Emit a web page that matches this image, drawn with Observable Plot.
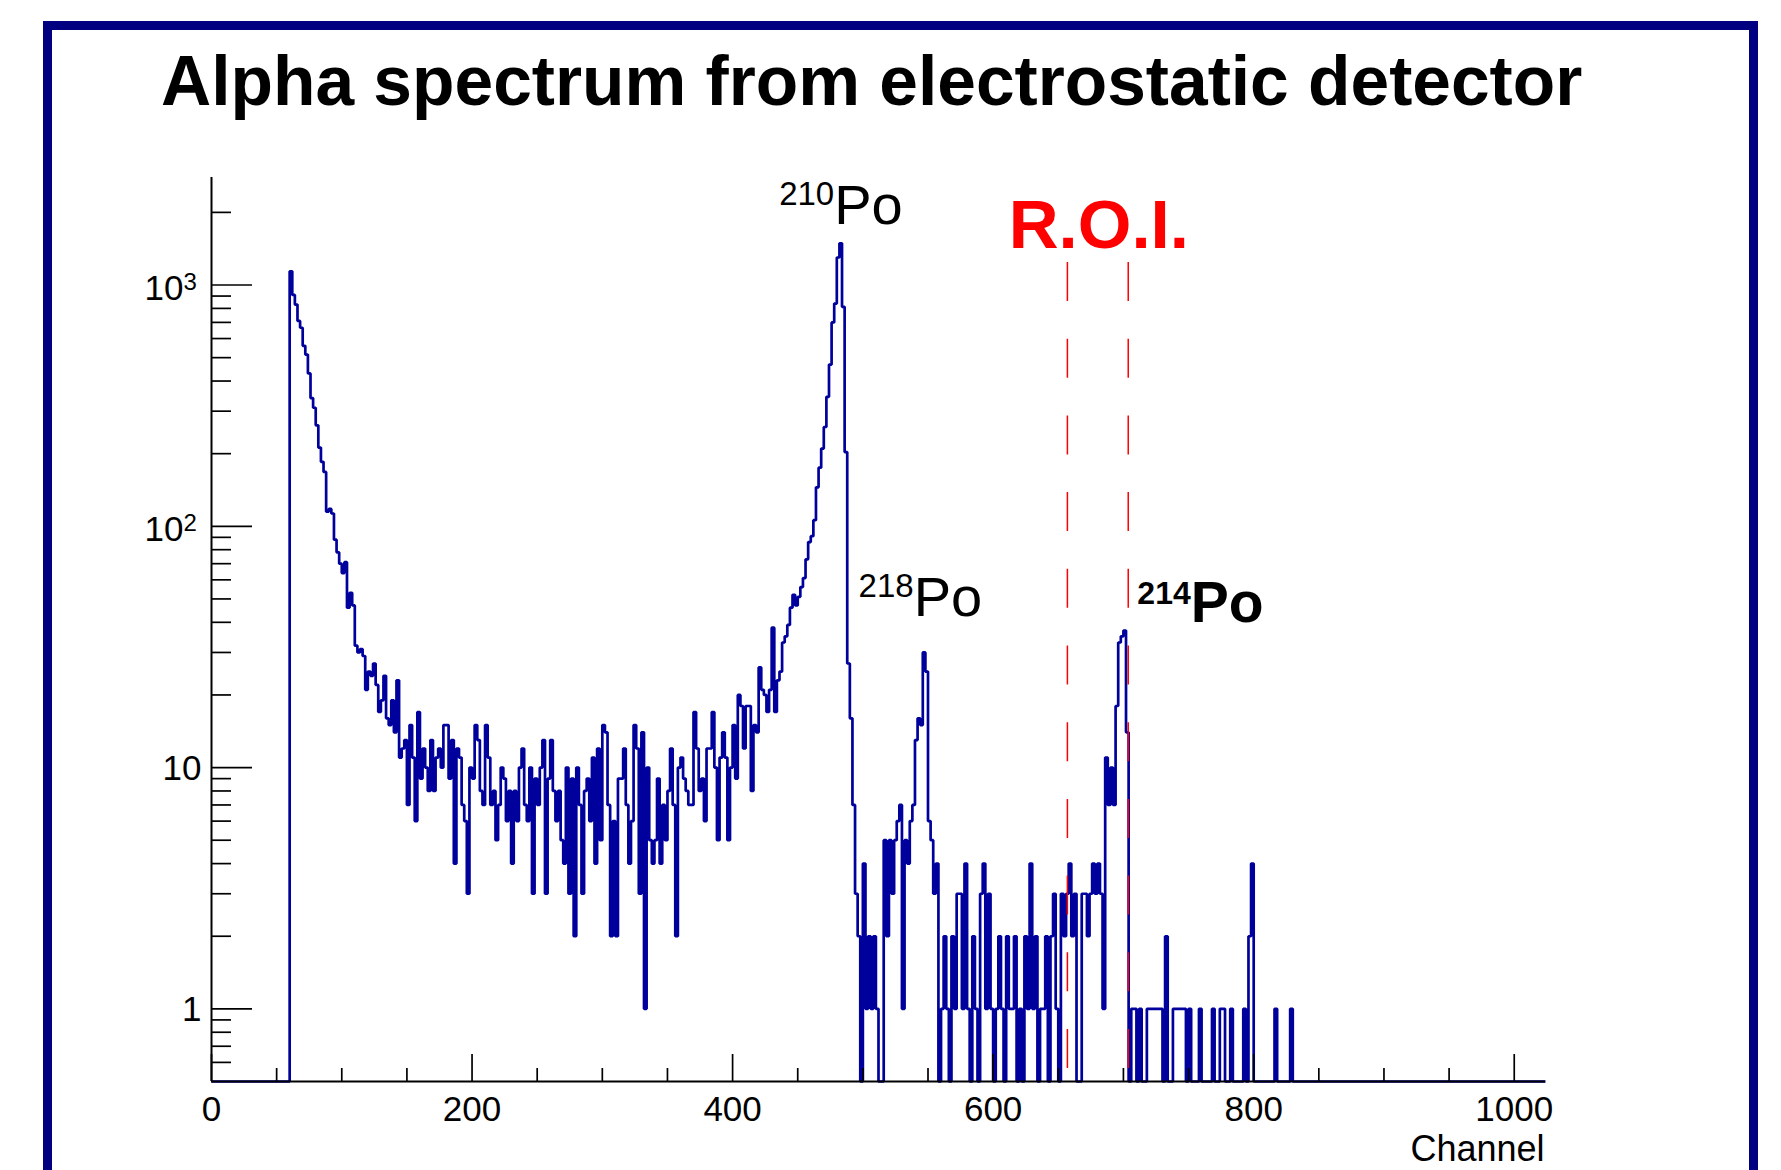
<!DOCTYPE html>
<html><head><meta charset="utf-8">
<script src="https://cdn.jsdelivr.net/npm/d3@7"></script>
<script src="https://cdn.jsdelivr.net/npm/@observablehq/plot@0.6"></script>
<style>
html,body{margin:0;padding:0;background:#fff;}
body{width:1781px;height:1170px;overflow:hidden;position:relative;font-family:"Liberation Sans",Arial,sans-serif;}
#frame{position:absolute;left:43px;top:21px;width:1715px;height:1300px;border:9px solid #000080;box-sizing:border-box;}
#title{position:absolute;left:161px;top:47px;margin:0;font-weight:bold;font-size:69.5px;line-height:69px;white-space:nowrap;color:#000;}
#chart{position:absolute;left:0;top:130px;}
</style></head><body>
<div id="frame"></div>
<h1 id="title">Alpha spectrum from electrostatic detector</h1>
<div id="chart"></div>
<script>
// ---- data -------------------------------------------------------------
const channelRange = [0, 1024];
const countRange = [0.5, 2790];
const binStart = 60;      // first channel of the counts array
const binWidth = 2;       // channels per bin
// counts per 2-channel bin, channels 60 .. 830
const counts = [
  1140, 910, 830, 710, 665, 560, 515, 430, 340, 310,   // 60-78
  262, 212, 185, 168, 115, 118, 113, 88, 78, 70,       // 80-98
  64, 71, 46, 53, 47, 32, 30, 31, 29, 21,              // 100-118
  25, 24, 27, 22, 17, 19, 24, 16, 15, 19,              // 120-138
  14, 23, 11, 12, 13, 7, 15, 11, 6, 17,                // 140-158
  9, 12, 10, 8, 13, 8, 11, 12, 10, 15,                 // 160-178
  15, 9, 13, 4, 12, 11, 7, 6, 3, 10,                   // 180-198
  9, 15, 13, 8, 7, 15, 11, 7, 8, 5,                    // 200-218
  7, 10, 9, 6, 8, 4, 8, 6, 10, 12,                     // 220-238
  7, 6, 10, 3, 9, 7, 10, 13, 3, 9,                     // 240-258
  13, 8, 6, 8, 5, 4, 10, 3, 9, 2,                      // 260-278
  10, 7, 3, 8, 9, 6, 11, 4, 12, 5,                     // 280-298
  15, 14, 7, 2, 6, 2, 9, 9, 12, 7,                     // 300-318
  4, 6, 15, 12, 3, 14, 1, 10, 5, 4,                    // 320-338
  5, 9, 4, 7, 5, 8, 12, 7, 2, 10,                      // 340-358
  11, 9, 8, 7, 7, 17, 12, 8, 9, 6,                     // 360-378
  12, 12, 17, 10, 5, 11, 14, 11, 5, 10,                // 380-398
  15, 9, 20, 18, 12, 18, 18, 8, 15, 14,                // 400-418
  26, 21, 20, 17, 21, 38, 17, 23, 25, 33,              // 420-438
  35, 39, 46, 52, 47, 51, 56, 61, 73, 86,              // 440-458
  91, 106, 145, 175, 210, 258, 344, 468, 700, 838,     // 460-478
  1300, 1490, 812, 203, 27, 16, 7, 3, 2, 0,            // 480-498
  4, 1, 2, 1, 2, 1, 0, 0, 5, 2,                        // 500-518
  5, 3, 5, 6, 7, 1, 5, 4, 6, 7,                        // 520-538
  13, 16, 15, 30, 25, 6, 5, 3, 4, 0,                   // 540-558
  1, 2, 1, 0, 2, 1, 3, 3, 1, 4,                        // 560-578
  1, 0, 2, 1, 0, 3, 4, 1, 3, 1,                        // 580-598
  0, 1, 2, 1, 0, 2, 1, 1, 2, 0,                        // 600-618
  1, 0, 2, 1, 4, 1, 2, 0, 1, 1,                        // 620-638
  2, 0, 2, 3, 1, 0, 3, 2, 3, 4,                        // 640-658
  2, 3, 0, 0, 3, 3, 2, 3, 4, 3,                        // 660-678
  4, 3, 1, 11, 7, 10, 7, 18, 33, 35,                   // 680-698
  37, 14, 0, 1, 1, 0, 1, 0, 0, 1,                      // 700-718
  1, 1, 1, 1, 1, 0, 2, 0, 0, 1,                        // 720-738
  1, 1, 1, 1, 0, 1, 0, 0, 0, 1,                        // 740-758
  0, 0, 0, 0, 1, 0, 0, 1, 1, 0,                        // 760-778
  0, 1, 0, 0, 0, 0, 1, 0, 2, 4,                        // 780-798
  0, 0, 0, 0, 0, 0, 0, 0, 1, 0,                        // 800-818
  0, 0, 0, 0, 1, 0                                     // 820-830
];
const xTickLabels = [0, 200, 400, 600, 800, 1000];
const xMinorStep = 50;
const yMajor = [1, 10, 100, 1000];
const yPlainLabels = [{v: 1, text: "1"}, {v: 10, text: "10"}];
const yPowerLabels = [{v: 100, base: "10", exp: "2"}, {v: 1000, base: "10", exp: "3"}];
const roiChannels = [657, 703.7];
const roiTop = 1240;
const isotopes = [
  {mass: "210", name: "Po", ch: 478, n: 1798, bold: false},
  {mass: "218", name: "Po", ch: 539, n: 42.4, bold: false},
  {mass: "214", name: "Po", ch: 751.7, n: 40.0, bold: true}
];
const roiLabel = [{text: "R.O.I.", ch: 612, n: 1417}];
const xTitle = "Channel";

// ---- derived tables ---------------------------------------------------
const hist = [{ch: channelRange[0], n: 0}];
counts.forEach((n, i) => hist.push({ch: binStart + i * binWidth, n}));
hist.push({ch: binStart + counts.length * binWidth, n: 0});
hist.push({ch: channelRange[1], n: 0});

const xMinor = d3.range(xMinorStep, channelRange[1], xMinorStep).filter(v => !xTickLabels.includes(v));
const yMinor = [];
for (const dec of [0.1, 1, 10, 100, 1000])
  for (let m = 2; m <= 9; m++) {
    const v = +(m * dec).toPrecision(3);
    if (v > countRange[0] && v < countRange[1]) yMinor.push(v);
  }

// ---- layout -------------------------------------------------------------
const W = 1781, H = 1040;
const mL = 211, mR = 236, mT = 47, mB = 89;
const plotW = W - mL - mR, plotH = H - mT - mB;
const font = "Liberation Sans, Arial, Helvetica, sans-serif";
const blue = "#00009c";

const chart = Plot.plot({
  width: W, height: H,
  marginLeft: mL, marginRight: mR, marginTop: mT, marginBottom: mB,
  style: {fontFamily: font, background: "transparent", overflow: "visible"},
  x: {domain: channelRange, axis: null},
  y: {type: "log", domain: countRange, axis: null},
  marks: [
    // histogram
    Plot.line(hist, {x: "ch", y: d => Math.max(d.n, countRange[0]), curve: "step-after",
      stroke: blue, strokeWidth: 2.7, strokeLinejoin: "miter", strokeLinecap: "butt"}),
    // ROI dashed lines
    Plot.ruleX(roiChannels, {x: d => d, y1: roiTop, y2: countRange[0], stroke: "#ff0000",
      strokeWidth: 1.5, strokeDasharray: "39 37.7"}),
    // axes lines
    Plot.ruleX([channelRange[0]], {stroke: "#000", strokeWidth: 2}),
    Plot.ruleY([countRange[0]], {stroke: "#000", strokeWidth: 2}),
    // y ticks (inside)
    Plot.tickY(yMajor, {y: d => d, stroke: "#000", strokeWidth: 1.7, insetRight: plotW - 41}),
    Plot.tickY(yMinor, {y: d => d, stroke: "#000", strokeWidth: 1.7, insetRight: plotW - 20}),
    // x ticks (inside)
    Plot.tickX(xTickLabels, {x: d => d, stroke: "#000", strokeWidth: 1.7, insetTop: plotH - 27}),
    Plot.tickX(xMinor, {x: d => d, stroke: "#000", strokeWidth: 1.7, insetTop: plotH - 13}),
    // x tick labels
    Plot.text(xTickLabels, {x: d => d, text: d => String(d), frameAnchor: "bottom", lineAnchor: "bottom",
      dy: 39, fontSize: 35, fill: "#000"}),
    Plot.text([xTitle], {text: d => d, frameAnchor: "bottom-right", textAnchor: "end", lineAnchor: "bottom",
      dx: -1, dy: 79, fontSize: 36, fill: "#000"}),
    // y tick labels
    Plot.text(yPlainLabels, {y: "v", text: "text", frameAnchor: "left", textAnchor: "end", lineAnchor: "bottom",
      dx: -10, dy: 12, fontSize: 35, fill: "#000"}),
    Plot.text(yPowerLabels, {y: "v", text: "base", frameAnchor: "left", textAnchor: "end", lineAnchor: "bottom",
      dx: -28, dy: 15, fontSize: 35, fill: "#000"}),
    Plot.text(yPowerLabels, {y: "v", text: "exp", frameAnchor: "left", textAnchor: "start", lineAnchor: "bottom",
      dx: -28, dy: 5, fontSize: 24, fill: "#000"}),
    // isotope labels
    Plot.text(isotopes.filter(d => !d.bold), {x: "ch", y: "n", text: "name", textAnchor: "start", lineAnchor: "bottom",
      fontSize: 56, fill: "#000"}),
    Plot.text(isotopes.filter(d => !d.bold), {x: "ch", y: "n", text: "mass", textAnchor: "end", lineAnchor: "bottom",
      dy: -19, fontSize: 33, fill: "#000"}),
    Plot.text(isotopes.filter(d => d.bold), {x: "ch", y: "n", text: "name", textAnchor: "start", lineAnchor: "bottom",
      fontSize: 57, fontWeight: "bold", fill: "#000"}),
    Plot.text(isotopes.filter(d => d.bold), {x: "ch", y: "n", text: "mass", textAnchor: "end", lineAnchor: "bottom",
      dy: -18, fontSize: 32, fontWeight: "bold", fill: "#000"}),
    // ROI label
    Plot.text(roiLabel, {x: "ch", y: "n", text: "text", textAnchor: "start", lineAnchor: "bottom",
      fontSize: 69, fontWeight: "bold", fill: "#ff0000"})
  ]
});
document.getElementById("chart").appendChild(chart);
</script></body></html>
